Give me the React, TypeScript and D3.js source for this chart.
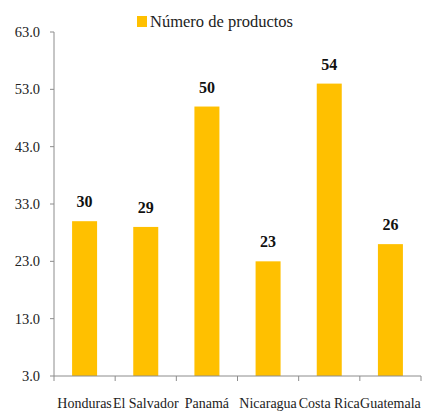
import React from "react";
import * as d3 from "d3";

const categories = ["Honduras", "El Salvador", "Panamá", "Nicaragua", "Costa Rica", "Guatemala"];
const values = [30, 29, 50, 23, 54, 26];
const yTicks = [3, 13, 23, 33, 43, 53, 63];
const seriesName = "Número de productos";

export default function App() {
  const W = 422, H = 411;
  const left = 54, right = 421, top = 32, bottom = 376;
  const x = d3.scaleBand<string>().domain(categories).range([left, right]).paddingInner(0).paddingOuter(0);
  const y = d3.scaleLinear().domain([3, 63]).range([bottom, top]);
  const barW = 25;
  const fs = { fontFamily: "Liberation Serif" };
  const axisColor = "#8c8c8c";
  const boundaries = categories.map((c) => x(c)!).concat([right]);
  return (
    <svg width={W} height={H} style={{ position: "absolute", left: 0, top: 0 }}>
      <rect x={0} y={0} width={W} height={H} fill="#fff" />
      {/* legend */}
      <rect x={137} y={16} width={10} height={11} fill="#FFC000" />
      <text x={150} y={27} fontSize={16.5} fill="#222" style={fs}>{seriesName}</text>
      {/* bars */}
      {categories.map((c, i) => {
        const cx = x(c)! + x.bandwidth() / 2;
        return (
          <g key={c}>
            <rect x={cx - barW / 2} y={y(values[i])} width={barW} height={bottom - y(values[i])} fill="#FFC000" />
            <text x={cx} y={y(values[i]) - 14} textAnchor="middle" fontSize={16} fontWeight="bold" fill="#111" style={fs}>
              {values[i]}
            </text>
            <text x={cx} y={408} textAnchor="middle" fontSize={14} fill="#222" style={fs}>{c}</text>
          </g>
        );
      })}
      {/* y axis */}
      <line x1={left} x2={left} y1={top} y2={bottom} stroke={axisColor} strokeWidth={1} />
      {yTicks.map((t) => (
        <g key={t}>
          <line x1={left - 4} x2={left} y1={y(t)} y2={y(t)} stroke={axisColor} />
          <text x={40} y={y(t) + 5} textAnchor="end" fontSize={14.5} fill="#222" style={fs}>{d3.format(".1f")(t)}</text>
        </g>
      ))}
      {/* x axis */}
      <line x1={left} x2={right} y1={bottom} y2={bottom} stroke={axisColor} />
      {boundaries.map((b, i) => (
        <line key={i} x1={b} x2={b} y1={bottom} y2={bottom + 5} stroke={axisColor} />
      ))}
    </svg>
  );
}
